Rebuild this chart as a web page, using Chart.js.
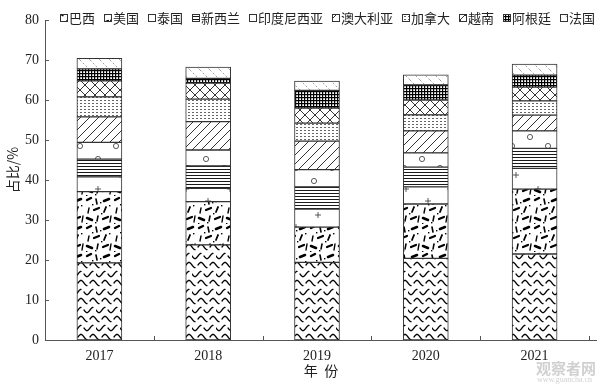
<!DOCTYPE html>
<html>
<head>
<meta charset="utf-8">
<script src="https://cdn.jsdelivr.net/npm/chart.js@4.4.0/dist/chart.umd.min.js"></script>
<style>
  html, body { margin: 0; background: #fff; }
  #wrap { width: 600px; height: 385px; }
</style>
</head>
<body>
<div id="wrap"><canvas id="chart" width="600" height="385"></canvas></div>
<script>
const years = ["2017", "2018", "2019", "2020", "2021"];
const countries = ["巴西", "美国", "泰国", "新西兰", "印度尼西亚", "澳大利亚", "加拿大", "越南", "阿根廷", "法国"];
const yTicks = [0, 10, 20, 30, 40, 50, 60, 70, 80];

// share (%) per year, bottom to top
const brazil    = [19.3, 23.8, 19.4, 20.4, 21.5];
const usa       = [17.8, 10.8,  8.8, 13.6, 16.2];
const thailand  = [ 3.7,  3.3,  4.5,  4.3,  5.2];
const newZeal   = [ 4.4,  5.6,  5.6,  4.9,  5.0];
const indonesia = [ 4.2,  4.0,  4.3,  3.6,  4.4];
const australia = [ 6.4,  7.1,  7.1,  5.5,  3.9];
const canada    = [ 5.0,  5.6,  4.5,  4.0,  3.6];
const vietnam   = [ 4.0,  4.0,  3.8,  3.7,  3.4];
const argentina = [ 3.0,  1.2,  4.4,  3.8,  3.0];
const france    = [ 2.6,  2.8,  2.3,  2.5,  2.8];

const seriesData = [brazil, usa, thailand, newZeal, indonesia, australia, canada, vietnam, argentina, france];

// pattern helpers
function makePattern(w, h, draw) {
    const c = document.createElement("canvas");
    c.width = w;
    c.height = h;
    const g = c.getContext("2d");
    g.fillStyle = "#fff";
    g.fillRect(0, 0, w, h);
    g.strokeStyle = "#000";
    g.fillStyle = "#000";
    draw(g, w, h);
    return c.getContext("2d").createPattern(c, "repeat");
}

function wave(g, x0, x1, yc) {
    g.beginPath();
    for (let x = x0; x <= x1; x += 0.5) {
        const y = yc + 2.6 * Math.sin((x / 12) * 2 * Math.PI);
        if (x === x0) g.moveTo(x, y); else g.lineTo(x, y);
    }
    g.stroke();
}

const patterns = [
    // wavy squiggles
    makePattern(24, 18, function (g) {
        g.lineWidth = 1.3;
        g.lineCap = "round";
        wave(g, 0, 9, 4);
        wave(g, 12, 21, 4);
        wave(g, 6, 15, 13);
        wave(g, 18, 27, 13);
        wave(g, -6, 3, 13);
    }),
    // splotches
    makePattern(28, 28, function (g) {
        g.lineCap = "round";
        const s = [[3, 4, 7, 2, 2.4], [12, 3, 13, 8, 1.6], [20, 5, 25, 3, 2.6], [5, 12, 4, 17, 1.4],
                   [10, 14, 15, 12, 2.2], [22, 11, 20, 16, 1.8], [3, 22, 8, 24, 2.6], [14, 20, 13, 25, 1.5],
                   [19, 23, 24, 21, 2.2], [26, 26, 27, 20, 1.4]];
        s.forEach(function (p) {
            g.lineWidth = p[4];
            g.beginPath(); g.moveTo(p[0], p[1]); g.lineTo(p[2], p[3]); g.stroke();
        });
        [[8, 8], [17, 17], [25, 9], [2, 27], [11, 26], [16, 6]].forEach(function (p) {
            g.fillRect(p[0], p[1], 1.4, 1.4);
        });
    }),
    // plus
    makePattern(44, 26, function (g) {
        g.lineWidth = 0.8;
        g.strokeStyle = "#333";
        [[10, 7], [32, 19]].forEach(function (p) {
            g.beginPath();
            g.moveTo(p[0] - 3, p[1]); g.lineTo(p[0] + 3, p[1]);
            g.moveTo(p[0], p[1] - 3); g.lineTo(p[0], p[1] + 3);
            g.stroke();
        });
    }),
    // horizontal lines
    makePattern(4, 3, function (g) {
        g.fillRect(0, 1, 4, 0.9);
    }),
    // circles
    makePattern(36, 22, function (g) {
        g.lineWidth = 0.8;
        g.strokeStyle = "#333";
        [[8, 14], [26, 5]].forEach(function (p) {
            g.beginPath(); g.arc(p[0], p[1], 2.6, 0, 2 * Math.PI); g.stroke();
        });
    }),
    // diagonal /
    makePattern(9, 9, function (g, w, h) {
        g.lineWidth = 0.8;
        g.beginPath();
        g.moveTo(-1, h + 1); g.lineTo(w + 1, -1);
        g.moveTo(-1, 1); g.lineTo(1, -1);
        g.moveTo(w - 1, h + 1); g.lineTo(w + 1, h - 1);
        g.stroke();
    }),
    // dotted rows
    makePattern(4, 3, function (g) {
        g.fillStyle = "#555";
        g.fillRect(0, 1, 2, 0.9);
    }),
    // cross-hatch
    makePattern(10, 10, function (g, w, h) {
        g.lineWidth = 0.8;
        g.beginPath();
        g.moveTo(0, 0); g.lineTo(w, h);
        g.moveTo(w, 0); g.lineTo(0, h);
        g.stroke();
    }),
    // dense grid
    makePattern(3, 3, function (g) {
        g.fillRect(1, 0, 1.2, 3);
        g.fillRect(0, 1, 3, 1.2);
    }),
    // light dashed backslash
    makePattern(10, 10, function (g, w, h) {
        g.lineWidth = 0.7;
        g.strokeStyle = "#777";
        g.setLineDash([2, 2]);
        g.beginPath();
        g.moveTo(0, 0); g.lineTo(w, h);
        g.stroke();
    }),
];

const datasets = countries.map(function (name, i) {
    return {
        label: name,
        data: seriesData[i],
        backgroundColor: patterns[i],
        borderColor: "#333",
        borderWidth: 1,
        borderSkipped: false,
    };
});

const serif = '"Liberation Serif", "DejaVu Serif", serif';
const cjk = '"Noto Sans CJK SC", sans-serif';

// axes, inward ticks, titles and legend
const decorPlugin = {
    id: "decor",
    afterDraw: function (chart) {
        const ctx = chart.ctx;
        const a = chart.chartArea;
        const ys = chart.scales.y;
        ctx.save();
        ctx.strokeStyle = "#555";
        ctx.lineWidth = 1;
        ctx.beginPath();
        ctx.moveTo(a.left + 0.5, a.top);
        ctx.lineTo(a.left + 0.5, a.bottom + 0.5);
        ctx.lineTo(597, a.bottom + 0.5);
        yTicks.forEach(function (t) {
            const y = Math.round(ys.getPixelForValue(t)) + 0.5;
            ctx.moveTo(a.left, y);
            ctx.lineTo(a.left + 4, y);
        });
        const step = (a.right - a.left) / years.length;
        for (let i = 1; i <= years.length; i++) {
            const x = Math.round(a.left + step * i) + 0.5;
            ctx.moveTo(x, a.bottom);
            ctx.lineTo(x, a.bottom - 4);
        }
        ctx.stroke();

        // titles
        ctx.fillStyle = "#222";
        ctx.font = "14px " + cjk;
        ctx.textAlign = "center";
        ctx.textBaseline = "middle";
        ctx.fillText("年  份", (a.left + 597) / 2, 371);
        ctx.save();
        ctx.translate(13, 170);
        ctx.rotate(-Math.PI / 2);
        ctx.fillText("占比/%", 0, 0);
        ctx.restore();

        // legend
        ctx.font = "13px " + cjk;
        ctx.textAlign = "left";
        let x = 60;
        const ly = 18;
        chart.data.datasets.forEach(function (ds) {
            ctx.fillStyle = ds.backgroundColor;
            ctx.fillRect(x, ly - 4, 8, 8);
            ctx.strokeStyle = "#333";
            ctx.strokeRect(x + 0.5, ly - 3.5, 7, 7);
            ctx.fillStyle = "#222";
            ctx.fillText(ds.label, x + 9, ly);
            x += 9 + ctx.measureText(ds.label).width + 9;
        });

        // watermark
        ctx.fillStyle = "rgba(150,150,150,0.45)";
        ctx.font = "bold 15px " + cjk;
        ctx.textAlign = "right";
        ctx.fillText("观察者网", 596, 368);
        ctx.font = "8px " + serif;
        ctx.fillText("www.guancha.cn", 592, 380);
        ctx.restore();
    },
};

new Chart(document.getElementById("chart").getContext("2d"), {
    type: "bar",
    data: {
        labels: years,
        datasets: datasets,
    },
    options: {
        responsive: false,
        animation: false,
        devicePixelRatio: 1,
        layout: {
            padding: {top: 20, right: 11, left: 0, bottom: 0},
        },
        datasets: {
            bar: {
                barThickness: 45,
            },
        },
        plugins: {
            legend: {display: false},
            tooltip: {enabled: false},
        },
        scales: {
            x: {
                stacked: true,
                grid: {display: false, drawTicks: false},
                border: {display: false},
                ticks: {
                    color: "#222",
                    padding: 8,
                    font: {family: serif, size: 14},
                },
                afterFit: function (s) { s.height = 45; },
            },
            y: {
                stacked: true,
                min: 0,
                max: 80,
                grid: {display: false, drawTicks: false},
                border: {display: false},
                ticks: {
                    stepSize: 10,
                    color: "#222",
                    padding: 6,
                    font: {family: serif, size: 14},
                },
                afterFit: function (s) { s.width = 45; },
            },
        },
    },
    plugins: [decorPlugin],
});
</script>
</body>
</html>
